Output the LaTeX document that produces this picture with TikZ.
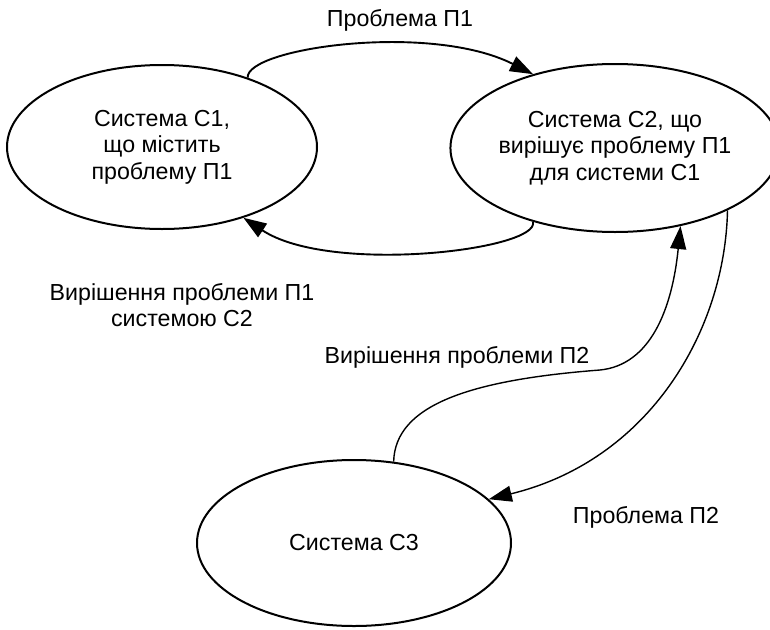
\documentclass[tikz,border=0pt]{standalone}
\usepackage{fontspec}
\setmainfont{Liberation Sans}
\usepackage{tikz}
\usetikzlibrary{shapes.geometric,arrows.meta,positioning}

\begin{document}
\begin{tikzpicture}[x=1pt,y=-1pt,
	every node/.style={font=\fontsize{23.2}{26.5}\selectfont},
	sys/.style={ellipse,draw=black,line width=2pt,inner sep=0pt,align=center},
	flow/.style={line width=1.9pt,-{Triangle[length=23pt,width=16pt]}},
	thinflow/.style={line width=1.4pt,-{Triangle[length=23pt,width=16pt]}}]
	\useasboundingbox (0,0) rectangle (770,629);

	\node (c1) [sys,minimum width=310pt,minimum height=164pt] at (162,147) {Система С1,\\ що містить\\ проблему П1};
	\node (c2) [sys,minimum width=304pt,minimum height=168pt] at (615,148) {Система С2, що\\вирішує проблему П1\\для системи С1};
	\node (c3) [sys,minimum width=314pt,minimum height=166pt] at (354,543) {Система С3};

	\node (p1) at (400,20) {Проблема П1};
	\node (r1) [align=center] at (182,305) {Вирішення проблеми П1\\системою С2};
	\node (r2) at (457,357) {Вирішення проблеми П2};
	\node (p2) at (646,517) {Проблема П2};

	\draw[flow] (c1.39.5) .. controls (246,48) and (430,22) .. (c2.138.3);
	\draw[flow] (c2.-138) .. controls (540,250) and (330,275) .. (c1.-41);
	\draw[thinflow] (c3.64.3) .. controls (395,405) and (470,380) .. (600,370)
		.. controls (650,365) and (672,310) .. (c2.-50);
	\draw[thinflow] (c2.-29) .. controls (725,330) and (650,460) .. (c3.18.9);
\end{tikzpicture}
\end{document}
